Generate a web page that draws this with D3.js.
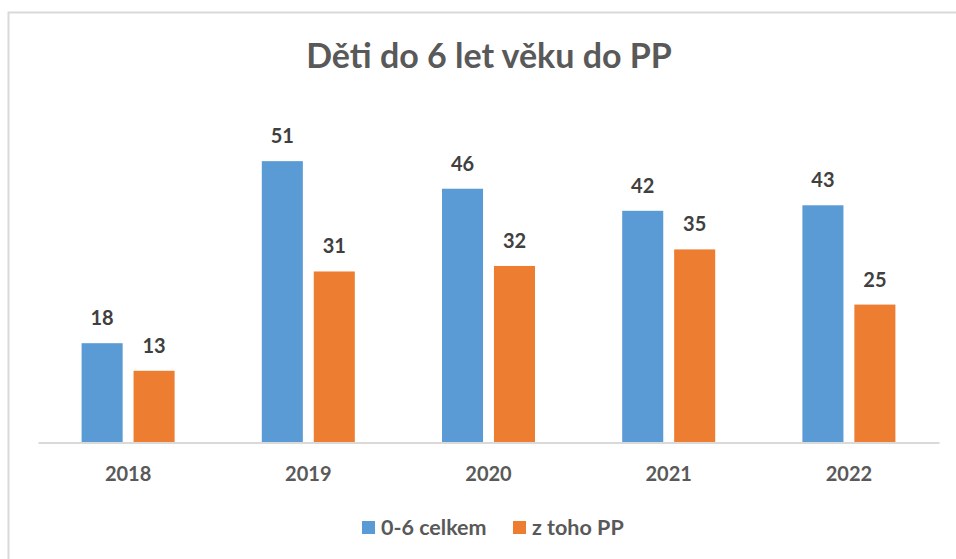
<!DOCTYPE html>
<html>
<head>
<meta charset="utf-8">
<script src="https://cdn.jsdelivr.net/npm/d3@7"></script>
<style>
  body { margin: 0; background: #fff; }
  text { font-family: Lato, "Open Sans", sans-serif; font-weight: bold; }
</style>
</head>
<body>
<div id="chart"></div>
<script>
const width = 956,
    height = 559

const years = ["2018", "2019", "2020", "2021", "2022"]
const seriesNames = ["0-6 celkem", "z toho PP"]
const celkem = [18, 51, 46, 42, 43]
const zTohoPP = [13, 31, 32, 35, 25]

const colors = {
    blue: "#5b9bd5",
    orange: "#ed7d31"
}
const seriesColors = [colors.blue, colors.orange]

const svg = d3.select("#chart")
    .append("svg")
        .attr("width", width)
        .attr("height", height)

// chart frame
svg.append("rect")
    .attr("x", 8.5)
    .attr("y", 12.5)
    .attr("width", 970)
    .attr("height", 560)
    .attr("fill", "#fff")
    .attr("stroke", "#d9d9d9")
    .attr("stroke-width", 2)

svg.append("text")
    .attr("x", 489)
    .attr("y", 68)
    .attr("text-anchor", "middle")
    .attr("font-size", 34)
    .attr("fill", "#595959")
    .text("Děti do 6 let věku do PP")

const x = d3.scaleBand()
    .domain(years)
    .range([38, 939])

const x1 = d3.scaleBand()
    .domain(seriesNames)
    .range([-46.5, 46.5])
    .paddingInner(0.21)

const y = d3.scaleLinear()
    .domain([0, 60])
    .range([442.5, 111.5])

const data = years.map((yr, i) => ({
    year: yr,
    values: [celkem[i], zTohoPP[i]]
}))

const groups = svg.selectAll("g.year")
    .data(data)
    .enter()
    .append("g")
        .attr("class", "year")
        .attr("transform", d => `translate(${x(d.year) + x.bandwidth() / 2},0)`)

groups.selectAll("rect")
    .data(d => d.values.map((v, j) => ({ name: seriesNames[j], value: v, color: seriesColors[j] })))
    .enter()
    .append("rect")
        .attr("x", d => x1(d.name))
        .attr("y", d => y(d.value))
        .attr("width", x1.bandwidth())
        .attr("height", d => y(0) - y(d.value))
        .attr("fill", d => d.color)

groups.selectAll("text.val")
    .data(d => d.values.map((v, j) => ({ name: seriesNames[j], value: v })))
    .enter()
    .append("text")
        .attr("class", "val")
        .attr("x", d => x1(d.name) + x1.bandwidth() / 2)
        .attr("y", d => y(d.value) - 18)
        .attr("text-anchor", "middle")
        .attr("font-size", 20)
        .attr("fill", "#404040")
        .text(d => d.value)

// category axis
const xAxis = svg.append("g")
    .attr("transform", `translate(0,${y(0)})`)
    .call(d3.axisBottom(x).tickSize(0).tickPadding(24))

xAxis.select(".domain")
    .attr("stroke", "#d9d9d9")
    .attr("stroke-width", 2)

xAxis.selectAll("text")
    .attr("font-size", 20)
    .attr("font-family", "Lato, 'Open Sans', sans-serif")
    .attr("font-weight", "bold")
    .attr("fill", "#595959")

// legend
const legendX = [362, 513]
const legend = svg.selectAll("g.legend")
    .data(seriesNames)
    .enter()
    .append("g")
        .attr("class", "legend")
        .attr("transform", (d, i) => `translate(${legendX[i]},521)`)

legend.append("rect")
    .attr("width", 13)
    .attr("height", 13)
    .attr("fill", (d, i) => seriesColors[i])

legend.append("text")
    .attr("x", 19)
    .attr("y", 13.5)
    .attr("font-size", 21.5)
    .attr("fill", "#595959")
    .text(d => d)
</script>
</body>
</html>
